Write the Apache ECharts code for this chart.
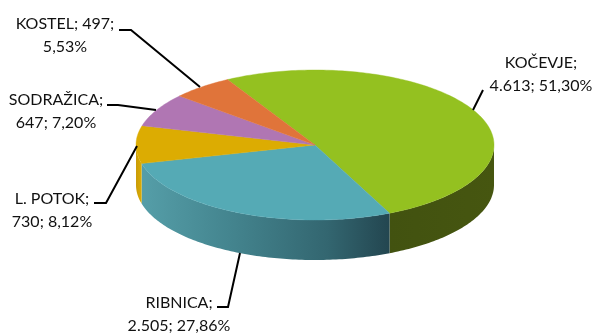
<!DOCTYPE html>
<html>
<head>
<meta charset="utf-8">
<style>html,body{margin:0;padding:0;background:#fff}#c{width:598px;height:334px}</style>
<script src="https://cdn.jsdelivr.net/npm/echarts@6/dist/echarts.min.js"></script>
</head>
<body>
<div id="c"></div>
<script>
const categories = ['KOČEVJE', 'RIBNICA', 'L. POTOK', 'SODRAŽICA', 'KOSTEL'];
const values = [4613, 2505, 730, 647, 497];
const topColors = ['#94c120', '#55aab5', '#dcac02', '#b076b3', '#e0743a'];
const wallStops = [
  [[0, '#425210'], [1, '#465610']],
  [[0, '#559ea8'], [0.35, '#44858f'], [0.75, '#336670'], [1, '#234650']],
  [[0, '#c99b08'], [1, '#dcac02']],
  [[0, '#b076b3'], [1, '#b076b3']],
  [[0, '#e0743a'], [1, '#e0743a']]
];
const labelLines = [
  ['KOČEVJE;', '4.613; 51,30%'],
  ['RIBNICA;', '2.505; 27,86%'],
  ['L. POTOK;', '730; 8,12%'],
  ['SODRAŽICA;', '647; 7,20%'],
  ['KOSTEL; 497;', '5,53%']
];
// layout
const CX = 315, CY = 145, RX = 179, RY = 75, DEPTH = 40, START_DEG = -29.3;
const labelPos = [[541, 74], [179, 314], [52, 210], [56, 111], [65, 35.5]];
const leaders = [
  [[483, 90], [473, 110]],
  [[240, 253], [228, 307], [217, 307]],
  [[137, 146], [106, 203], [94, 203]],
  [[107, 105], [118, 105], [156, 110]],
  [[119, 30], [131, 30], [200, 87]]
];

const total = values.reduce((a, b) => a + b, 0);
const pt = (deg, dy) => {
  const r = deg * Math.PI / 180;
  return [CX + RX * Math.sin(r), CY - RY * Math.cos(r) + (dy || 0)];
};
const arc = (a, b, dy) => {
  const out = [], n = Math.max(2, Math.ceil(Math.abs(b - a)));
  for (let i = 0; i <= n; i++) out.push(pt(a + (b - a) * i / n, dy));
  return out;
};
const startOf = i => {
  let s = 0;
  for (let k = 0; k < i; k++) s += values[k];
  return START_DEG + s / total * 360;
};

function renderItem(params, api) {
  const i = api.value(0);
  const a = startOf(i), b = a + api.value(1) / total * 360;
  const children = [];
  // front wall visible between 90 and 270 degrees
  const wa = Math.max(a, 90), wb = Math.min(b, 270);
  if (wb > wa) {
    const top = arc(wa, wb, 0), bot = arc(wb, wa, DEPTH);
    const stops = wallStops[i].map(s => ({ offset: s[0], color: s[1] }));
    children.push({
      type: 'polygon',
      shape: { points: top.concat(bot) },
      style: {
        fill: new echarts.graphic.LinearGradient(0, 0, 1, 0, stops),
        stroke: null
      }
    });
  }
  children.push({
    type: 'polygon',
    z2: 5,
    shape: { points: [[CX, CY]].concat(arc(a, b, 0)) },
    style: { fill: topColors[i], stroke: topColors[i], lineWidth: 0.4 }
  });
  return { type: 'group', children };
}

const graphicEls = [];
leaders.forEach(pts => graphicEls.push({
  type: 'polyline', z: 10,
  shape: { points: pts },
  style: { stroke: '#000', lineWidth: 2, fill: null }
}));
labelLines.forEach((t, i) => graphicEls.push({
  type: 'text', z: 11,
  x: labelPos[i][0], y: labelPos[i][1],
  style: {
    text: t.join('\n'), font: '16px Lato, "Noto Sans", sans-serif',
    fill: '#111', align: 'center', verticalAlign: 'middle', lineHeight: 23
  }
}));

const chart = echarts.init(document.getElementById('c'), null, { renderer: 'canvas' });
chart.setOption({
  animation: false,
  backgroundColor: '#fff',
  graphic: graphicEls,
  series: [{
    type: 'custom',
    coordinateSystem: 'none',
    renderItem,
    silent: true,
    data: categories.map((c, i) => ({ name: c, value: [i, values[i]] }))
  }]
});
</script>
</body>
</html>
